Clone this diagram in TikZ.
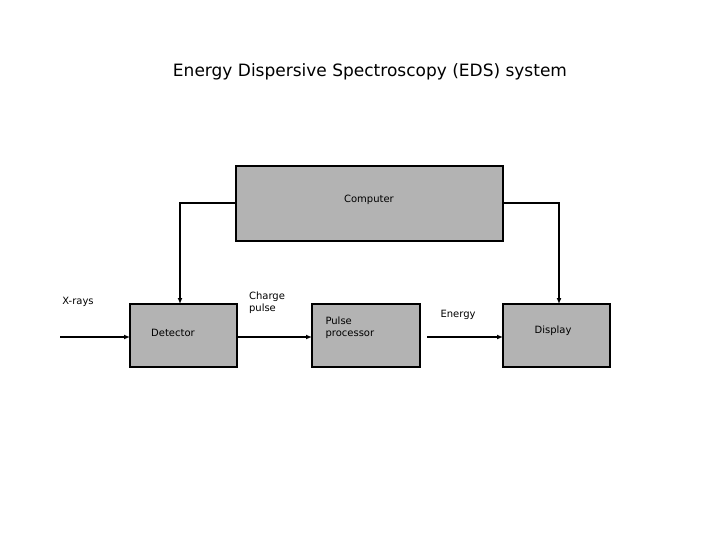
\documentclass[tikz,border=0pt]{standalone}
\usepackage{fontspec}
\setmainfont{DejaVu Sans}
\usetikzlibrary{arrows.meta}
\definecolor{boxgray}{RGB}{179,179,179}
\tikzset{
  blk/.style={draw=black, fill=boxgray, line width=1.3pt},
  conn/.style={line width=2pt, -{Latex[length=6pt,width=5pt]}},
  lbl/.style={font=\fontsize{10}{12}\selectfont, align=left},
}
\begin{document}
\begin{tikzpicture}[x=1pt,y=-1pt]
  \useasboundingbox (0,0) rectangle (720,540);
  \node[font=\fontsize{17}{20}\selectfont] (title) at (370,72) {Energy Dispersive Spectroscopy (EDS) system};
  \draw[blk] (236,166) rectangle (503,241);
  \node[lbl] (comp) at (369,200) {Computer};
  \coordinate (compL) at (236,203);
  \coordinate (compR) at (503,203);
  \draw[blk] (130,304) rectangle (237,367);
  \coordinate (detT) at (180,304);
  \coordinate (detL) at (130,337);
  \coordinate (detR) at (237,337);
  \node[lbl] (det) at (173,333) {Detector};
  \draw[blk] (312,304) rectangle (420,367);
  \coordinate (ppL) at (312,337);
  \coordinate (ppR) at (420,337);
  \node[lbl, anchor=west] (pp) at (322,328) {Pulse\\processor};
  \draw[blk] (503,304) rectangle (610,367);
  \coordinate (dispT) at (559,304);
  \coordinate (dispL) at (503,337);
  \node[lbl] (disp) at (553,331) {Display};
  \coordinate (xin) at (60,337);
  \coordinate (ein) at (427,337);
  \draw[conn] (xin) -- (detL);
  \draw[conn] (detR) -- (ppL);
  \draw[conn] (ein) -- (dispL);
  \draw[conn] (compL) -| (detT);
  \draw[conn] (compR) -| (dispT);
  \node[lbl] (xr) at (78,302) {X-rays};
  \node[lbl] (cp) at (267,303) {Charge\\pulse};
  \node[lbl] (en) at (458,315) {Energy};
\end{tikzpicture}
\end{document}
